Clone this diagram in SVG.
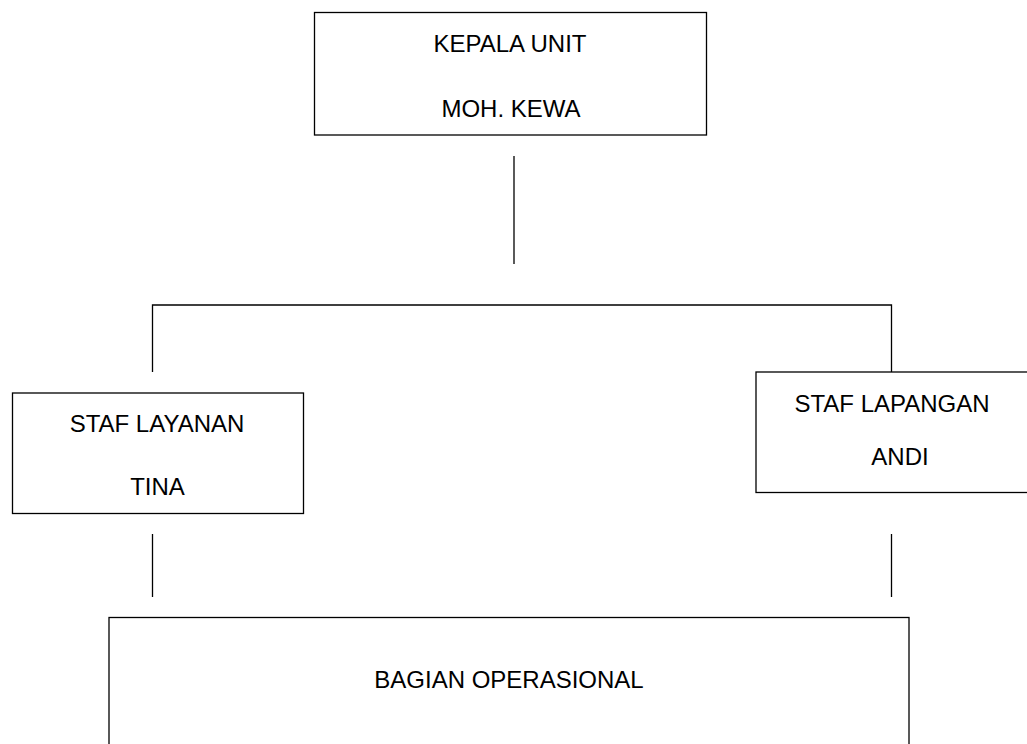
<svg xmlns="http://www.w3.org/2000/svg" width="1027" height="744" viewBox="0 0 1027 744">
<style>
.box{fill:#fff;stroke:#000;stroke-width:1.3}
.ln{stroke:#000;stroke-width:1.3;fill:none}
text{font-family:"Liberation Sans",Arial,sans-serif;font-size:24px;fill:#000;text-anchor:middle}
</style>
<rect width="1027" height="744" fill="#fff"/>
<g id="connectors">
<line class="ln" x1="514" y1="156" x2="514" y2="264"/>
<polyline class="ln" points="152.5,372 152.5,305 891.5,305 891.5,372"/>
<line class="ln" x1="152.5" y1="534" x2="152.5" y2="597"/>
<line class="ln" x1="891.5" y1="534" x2="891.5" y2="597"/>
</g>
<g id="kepala">
<rect class="box" x="314.5" y="12.5" width="392" height="122.5"/>
<text x="510" y="52">KEPALA UNIT</text>
<text x="511" y="117">MOH. KEWA</text>
</g>
<g id="staf-layanan">
<rect class="box" x="12.5" y="393" width="291" height="120.5"/>
<text x="157" y="432">STAF LAYANAN</text>
<text x="157.5" y="495">TINA</text>
</g>
<g id="staf-lapangan">
<rect class="box" x="756" y="372" width="273" height="120.5"/>
<text x="892" y="412">STAF LAPANGAN</text>
<text x="900" y="465">ANDI</text>
</g>
<g id="bagian-operasional">
<rect class="box" x="109" y="617.5" width="800" height="140"/>
<text x="509" y="688">BAGIAN OPERASIONAL</text>
</g>
</svg>
